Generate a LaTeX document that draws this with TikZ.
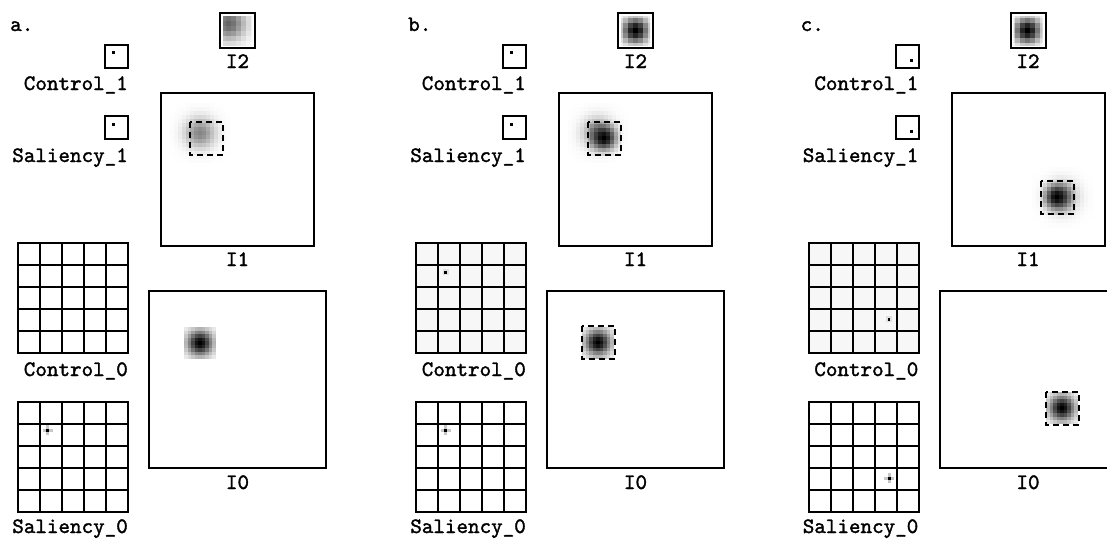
\documentclass[tikz,border=0pt]{standalone}
\font\lblfnt="[lmmono10-regular]:embolden=1.5" at 22pt
\tikzset{
  box/.style={draw=black, line width=2pt},
  dbox/.style={draw=black, line width=2pt, dash pattern=on 6pt off 4pt},
  lbl/.style={inner sep=0pt, font=\lblfnt},
}
\def\hx{0}\def\hy{0}\def\hs{10}\def\hp{0}
% gaussian blob (solid greys, combined with halo \hx,\hy,\hs,\hp): cx, cy, sigma, peak, n cells each side, cell size
\newcommand{\gblob}[6]{%
  \foreach \i in {-#5,...,#5}{%
    \foreach \j in {-#5,...,#5}{%
      \pgfmathsetmacro\px{#1+\i*#6}%
      \pgfmathsetmacro\py{#2+\j*#6}%
      \pgfmathsetmacro\dxc{min(abs(\i*#6/#3),6)}%
      \pgfmathsetmacro\dyc{min(abs(\j*#6/#3),6)}%
      \pgfmathsetmacro\vc{#4*exp(-(\dxc*\dxc+\dyc*\dyc)/2)}%
      \pgfmathsetmacro\dxh{min(abs((\px-\hx)/\hs),6)}%
      \pgfmathsetmacro\dyh{min(abs((\py-\hy)/\hs),6)}%
      \pgfmathsetmacro\vh{\hp*exp(-(\dxh*\dxh+\dyh*\dyh)/2)}%
      \pgfmathsetmacro\pct{100*(1-(1-\vc)*(1-\vh))}%
      \fill[black!\pct] ({\px-#6/2-0.25},{\py-#6/2-0.25}) rectangle ({\px+#6/2+0.25},{\py+#6/2+0.25});
    }%
  }%
}
\newcommand{\sqdot}[2]{\fill ({#1-1.5},{#2-1.5}) rectangle ({#1+1.5},{#2+1.5});}
\newcommand{\saldot}[2]{%
  \fill[black!22] ({#1-5},{#2-1.5}) rectangle ({#1+5},{#2+1.5});
  \fill[black!22] ({#1-1.5},{#2-5}) rectangle ({#1+1.5},{#2+5});
  \fill ({#1-1.5},{#2-1.5}) rectangle ({#1+1.5},{#2+1.5});
}
\newcommand{\ctldot}[2]{%
  \fill[black!12] ({#1-3},{#2-3}) rectangle ({#1+3},{#2+3});
  \fill ({#1-1.3},{#2-1.3}) rectangle ({#1+1.3},{#2+1.3});
}
\newcommand{\gridfive}[2]{%
  \fill[#2] (18,#1) rectangle (128,{#1+110});
  \foreach \k in {1,...,4}{%
    \draw[box] ({18+22*\k},#1) -- ({18+22*\k},{#1+110});
    \draw[box] (18,{#1+22*\k}) -- (128,{#1+22*\k});
  }
  \draw[box] (18,#1) rectangle (128,{#1+110});
}
\newcommand{\commonparts}[2]{%
  \node[lbl, anchor=base west] (#1-tag) at (10,31) {#2};
  \draw[box] (105,45) rectangle (128,68);
  \node[lbl, anchor=base east] (#1-c1lbl) at (128,90) {Control\_1};
  \draw[box] (105,116) rectangle (128,139);
  \node[lbl, anchor=base east] (#1-s1lbl) at (128,162) {Saliency\_1};
  \draw[box] (220,13) rectangle (255,48);
  \node[lbl, anchor=base] (#1-i2lbl) at (237.5,68) {I2};
  \draw[box] (161,93) rectangle (314,246);
  \node[lbl, anchor=base] (#1-i1lbl) at (237.5,266) {I1};
  \draw[box] (149,291) rectangle (326,468);
  \node[lbl, anchor=base] (#1-i0lbl) at (237.5,489) {I0};
  \node[lbl, anchor=base east] (#1-c0lbl) at (128,376) {Control\_0};
  \node[lbl, anchor=base east] (#1-s0lbl) at (128,533) {Saliency\_0};
}
\begin{document}
\begin{tikzpicture}[x=1pt,y=-1pt]
\clip (0,0) rectangle (1107,538);
\fill[white] (0,0) rectangle (1107,538);

% ================= panel a =================
\begin{scope}
  \def\hp{0}
  \begin{scope}
    \clip (223,16) rectangle (252,45);
    \gblob{229}{24}{12}{0.6}{7}{5}
  \end{scope}
  \gblob{200}{133}{10.5}{0.48}{7}{4}
  \draw[dbox] (190,122) rectangle (223,155);
  \gblob{200}{343}{9}{1}{4}{3.5}
  \sqdot{113}{52}
  \sqdot{113}{124}
  \gridfive{243}{white}
  \gridfive{402}{white}
  \saldot{47.7}{430}
  \commonparts{a}{a.}
\end{scope}

% ================= panel b =================
\begin{scope}[xshift=398pt]
  \def\hp{0}
  \begin{scope}
    \clip (223,16) rectangle (252,45);
    \gblob{237.5}{30.5}{9}{1}{3}{5}
  \end{scope}
  \gblob{200}{133}{10.5}{0.48}{7}{4}
  \def\hx{200}\def\hy{133}\def\hs{10.5}\def\hp{0.48}
  \begin{scope}
    \clip (190,122) rectangle (223,155);
    \gblob{206.5}{138.5}{8}{1}{4}{4}
  \end{scope}
  \def\hp{0}
  \draw[dbox] (190,122) rectangle (223,155);
  \gblob{200.3}{342.7}{9}{1}{4}{3.5}
  \draw[dbox] (184,326) rectangle (217,359);
  \sqdot{113}{52}
  \sqdot{113}{124}
  \gridfive{243}{black!3}
  \gridfive{402}{white}
  \ctldot{47.7}{272.3}
  \saldot{47.7}{430.3}
  \commonparts{b}{b.}
\end{scope}

% ================= panel c =================
\begin{scope}[xshift=790.5pt]
  \def\hp{0}
  \begin{scope}
    \clip (223,16) rectangle (252,45);
    \gblob{237.5}{30.5}{9}{1}{3}{5}
  \end{scope}
  \gblob{272}{197.5}{10.5}{0.45}{7}{4}
  \def\hx{272}\def\hy{197.5}\def\hs{10.5}\def\hp{0.45}
  \begin{scope}
    \clip (250,181) rectangle (283,214);
    \gblob{266.5}{197.5}{8}{1}{4}{4}
  \end{scope}
  \def\hp{0}
  \draw[dbox] (250,181) rectangle (283,214);
  \gblob{271.8}{408.3}{9}{1}{4}{3.5}
  \draw[dbox] (255,392) rectangle (288,425);
  \sqdot{121}{60}
  \sqdot{121}{131}
  \gridfive{243}{black!3}
  \gridfive{402}{white}
  \ctldot{98.5}{319.3}
  \saldot{98.5}{478.3}
  \commonparts{c}{c.}
\end{scope}
\end{tikzpicture}
\end{document}
